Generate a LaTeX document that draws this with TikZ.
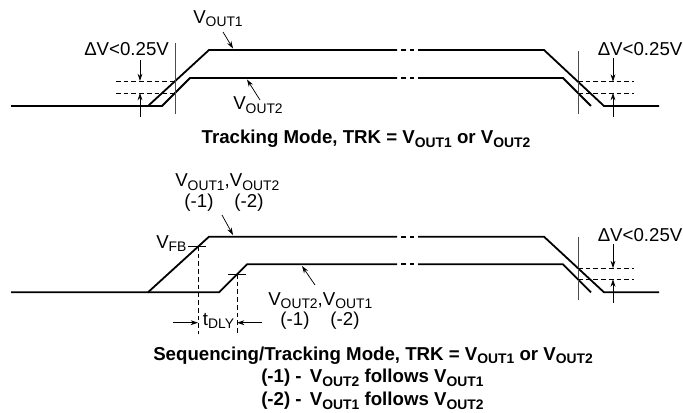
\documentclass[tikz,border=0pt]{standalone}
\usepackage{fontspec}
\setmainfont{Liberation Sans}
\usetikzlibrary{arrows.meta}
\newcommand{\vsub}[2]{#1\raisebox{-2.6pt}{\fontsize{10.4}{11}\selectfont #2}}
\begin{document}
\begin{tikzpicture}[x=0.75pt,y=-0.75pt,
  trace/.style={line width=1.35pt,line join=miter},
  thinln/.style={line width=0.55pt},
  thinmark/.style={line width=0.55pt,black!70},
  dline/.style={line width=0.55pt,dash pattern=on 3.5pt off 2.3pt},
  arr/.style={line width=0.55pt,-{Stealth[length=5.5pt,width=3.6pt]}},
  lbl/.style={inner sep=0pt,font=\fontsize{14}{16}\selectfont},
  captxt/.style={inner sep=0pt,font=\fontsize{14}{16}\selectfont\bfseries}]
\useasboundingbox (0,0) rectangle (683,413);

% ---------- Top: tracking mode ----------
\draw[trace] (11,106) -- (148,106) -- (209,50) -- (397,50);
\draw[trace] (401,50) -- (405.5,50) (410,50) -- (414,50);
\draw[trace] (418,50) -- (544,50) -- (604,106) -- (659,106);
\draw[trace] (148,106) -- (162,106) -- (190,78) -- (397,78);
\draw[trace] (401,78) -- (405.5,78) (410,78) -- (414,78);
\draw[trace] (418,78) -- (563,78) -- (591,106);

% left delta V
\draw[thinmark] (175,43) -- (175,114);
\draw[dline] (116,81) -- (175,81);
\draw[dline] (116,93) -- (175,93);
\coordinate (la1) at (140,60); \coordinate (la1t) at (140,81);
\coordinate (la2) at (140,117); \coordinate (la2t) at (140,93);
\draw[arr] (la1) -- (la1t);
\draw[arr] (la2) -- (la2t);
\node[lbl,anchor=base west] (dvl) at (84,56) {ΔV<0.25V};

% right delta V
\draw[thinmark] (578,51) -- (578,114);
\draw[dline] (578,81.7) -- (634,81.7);
\draw[dline] (578,93) -- (634,93);
\coordinate (ra1) at (613,58); \coordinate (ra1t) at (613,81.7);
\coordinate (ra2) at (613,117); \coordinate (ra2t) at (613,93);
\draw[arr] (ra1) -- (ra1t);
\draw[arr] (ra2) -- (ra2t);
\node[lbl,anchor=base west] (dvr) at (597.5,56) {ΔV<0.25V};

% labels
\node[lbl,anchor=base west] (v1) at (193,23.5) {\vsub{V}{OUT1}};
\coordinate (v1a) at (223,32); \coordinate (v1t) at (233,48.5);
\draw[arr] (v1a) -- (v1t);
\node[lbl,anchor=base west] (v2) at (233,110) {\vsub{V}{OUT2}};
\coordinate (v2a) at (260,100); \coordinate (v2t) at (247,79.5);
\draw[arr] (v2a) -- (v2t);

\node[captxt,anchor=base] (cap1) at (366,144) {Tracking Mode, TRK = \vsub{V}{OUT1} or \vsub{V}{OUT2}};

% ---------- Bottom: sequencing/tracking mode ----------
\draw[trace] (11,292.3) -- (148,292.3) -- (209,236.7) -- (397,236.7);
\draw[trace] (401,236.7) -- (405.5,236.7) (410,236.7) -- (414,236.7);
\draw[trace] (418,236.7) -- (544,236.7) -- (604,292.3) -- (659,292.3);
\draw[trace] (148,292.3) -- (219,292.3) -- (247,264.3) -- (397,264.3);
\draw[trace] (401,264.3) -- (405.5,264.3) (410,264.3) -- (414,264.3);
\draw[trace] (418,264.3) -- (563,264.3) -- (591,292.3);

% VFB ticks and tDLY
\draw[thinln] (188,246) -- (206,246);
\draw[thinln] (228,274) -- (246,274);
\draw[dline] (198,246) -- (198,334);
\draw[dline] (237,274) -- (237,334);
\node[lbl,anchor=base west] (vfb) at (156,248.3) {\vsub{V}{FB}};
\coordinate (tl) at (173,322.7); \coordinate (tlt) at (198,322.7);
\coordinate (tr) at (262,322.7); \coordinate (trt) at (237,322.7);
\draw[arr] (tl) -- (tlt);
\draw[arr] (tr) -- (trt);
\node[lbl,anchor=base] (tdly) at (218.5,325.5) {\vsub{t}{DLY}};

% right delta V bottom
\draw[thinmark] (578,237) -- (578,300);
\draw[dline] (578,268.2) -- (634,268.2);
\draw[dline] (578,279.4) -- (634,279.4);
\coordinate (rb1) at (613,244); \coordinate (rb1t) at (613,268.2);
\coordinate (rb2) at (613,303); \coordinate (rb2t) at (613,279.4);
\draw[arr] (rb1) -- (rb1t);
\draw[arr] (rb2) -- (rb2t);
\node[lbl,anchor=base west] (dvb) at (597.5,242) {ΔV<0.25V};

% labels bottom
\node[lbl,anchor=base west] (v12) at (175,187) {\vsub{V}{OUT1},\vsub{V}{OUT2}};
\node[lbl,anchor=base] (m1a) at (199,208) {(-1)};
\node[lbl,anchor=base] (m2a) at (249,208) {(-2)};
\coordinate (v12a) at (222,215); \coordinate (v12t) at (233,235);
\draw[arr] (v12a) -- (v12t);

\node[lbl,anchor=base west] (v21) at (268,305.5) {\vsub{V}{OUT2},\vsub{V}{OUT1}};
\node[lbl,anchor=base] (m1b) at (295,326) {(-1)};
\node[lbl,anchor=base] (m2b) at (345,326) {(-2)};
\coordinate (v21a) at (315,285); \coordinate (v21t) at (302,266);
\draw[arr] (v21a) -- (v21t);

\node[captxt,anchor=base west] (cap2) at (153,360.5) {Sequencing/Tracking Mode, TRK = \vsub{V}{OUT1} or \vsub{V}{OUT2}};
\node[captxt,anchor=base west] (cap3) at (261,383) {(-1) -\ \,\vsub{V}{OUT2} follows \vsub{V}{OUT1}};
\node[captxt,anchor=base west] (cap4) at (261,406) {(-2) -\ \,\vsub{V}{OUT1} follows \vsub{V}{OUT2}};
\end{tikzpicture}
\end{document}
